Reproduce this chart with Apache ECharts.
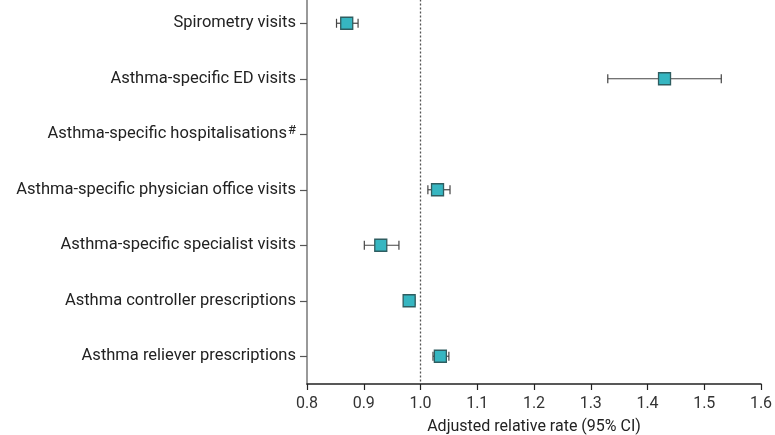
<!DOCTYPE html>
<html><head><meta charset="utf-8">
<script src="https://cdn.jsdelivr.net/npm/echarts@6/dist/echarts.min.js"></script>
<style>html,body{margin:0;padding:0;background:#fff}#c{width:775px;height:435px}</style>
</head><body><div id="c"></div>
<script>
const categories = [
  'Spirometry visits',
  'Asthma-specific ED visits',
  'Asthma-specific hospitalisations#',
  'Asthma-specific physician office visits',
  'Asthma-specific specialist visits',
  'Asthma controller prescriptions',
  'Asthma reliever prescriptions'
];
const estimates = [0.87, 1.43, null, 1.03, 0.93, 0.98, 1.035];
const lowerCI   = [0.852, 1.33, null, 1.013, 0.901, 0.972, 1.022];
const upperCI   = [0.89, 1.53, null, 1.052, 0.962, 0.99, 1.05];
const xTicks = [0.8, 0.9, 1.0, 1.1, 1.2, 1.3, 1.4, 1.5, 1.6];

const errData = [];
const ptData = [];
categories.forEach((c, i) => {
  if (estimates[i] != null) {
    errData.push([i, lowerCI[i], upperCI[i]]);
    ptData.push([estimates[i], i]);
  }
});

const chart = echarts.init(document.getElementById('c'), null, {renderer: 'canvas'});
const font = 'Roboto, "Noto Sans", sans-serif';
chart.setOption({
  animation: false,
  grid: {left: 307, right: 14, top: -4.5, bottom: 51, outerBoundsMode: 'none', containLabel: false},
  xAxis: {
    type: 'value', min: 0.8, max: 1.6, interval: 0.1,
    name: 'Adjusted relative rate (95% CI)', nameLocation: 'middle', nameGap: 35,
    nameTextStyle: {fontFamily: font, fontSize: 16, color: '#222'},
    axisLine: {show: true, lineStyle: {color: '#222', width: 1.5}},
    axisTick: {show: true, length: 6, lineStyle: {color: '#222', width: 1.2}},
    axisLabel: {fontFamily: font, fontSize: 16, color: '#333', margin: 12,
      formatter: v => xTicks.includes(Math.round(v*10)/10) ? v.toFixed(1) : ''},
    splitLine: {show: false}
  },
  yAxis: {
    type: 'category', data: categories, inverse: true,
    axisLine: {show: true, lineStyle: {color: '#999', width: 2}},
    axisTick: {show: true, alignWithLabel: true, length: 7, lineStyle: {color: '#555', width: 1.2}},
    axisLabel: {fontFamily: font, fontSize: 16.5, color: '#222', margin: 11,
      formatter: v => v.endsWith('#') ? v.slice(0, -1) + '{sup|#}' : v,
      rich: {sup: {fontFamily: font, fontSize: 13, color: '#222', verticalAlign: 'top', padding: [0,0,8,1]}}
    },
    splitLine: {show: false}
  },
  series: [
    {
      type: 'custom',
      data: errData,
      renderItem: (params, api) => {
        const y = api.value(0);
        const lo = api.coord([api.value(1), y]);
        const hi = api.coord([api.value(2), y]);
        const h = 4.5;
        const st = {stroke: '#444', lineWidth: 1.2};
        return {type: 'group', children: [
          {type: 'line', shape: {x1: lo[0], y1: lo[1], x2: hi[0], y2: hi[1]}, style: st},
          {type: 'line', shape: {x1: lo[0], y1: lo[1]-h, x2: lo[0], y2: lo[1]+h}, style: st},
          {type: 'line', shape: {x1: hi[0], y1: hi[1]-h, x2: hi[0], y2: hi[1]+h}, style: st}
        ]};
      },
      encode: {x: [1, 2], y: 0},
      z: 2
    },
    {
      type: 'scatter',
      data: ptData,
      symbol: 'rect', symbolSize: 12,
      itemStyle: {color: '#36b6c1', borderColor: '#2f5d60', borderWidth: 1.3, opacity: 1},
      z: 3,
      markLine: {
        silent: true, symbol: 'none', label: {show: false},
        lineStyle: {color: '#555', type: [2, 2], width: 1.3},
        data: [{xAxis: 1.0}]
      }
    }
  ]
});
</script></body></html>
